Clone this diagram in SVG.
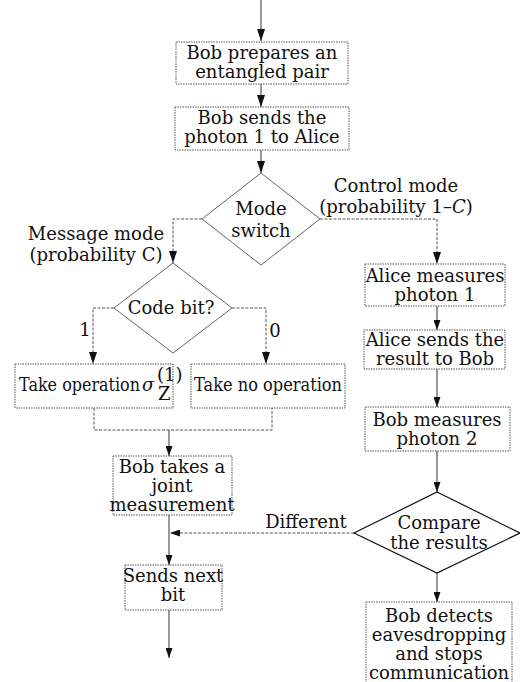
<svg xmlns="http://www.w3.org/2000/svg" width="520" height="682" viewBox="0 0 520 682">
<defs>
<marker id="arr" markerUnits="userSpaceOnUse" markerWidth="12" markerHeight="8" refX="12" refY="4" orient="auto" viewBox="0 0 12 8">
<path d="M0,0 L12,4 L0,8 z" fill="#111"/>
</marker>
<marker id="arrs" markerUnits="userSpaceOnUse" markerWidth="10" markerHeight="7" refX="10" refY="3.5" orient="auto" viewBox="0 0 10 7">
<path d="M0,0 L10,3.5 L0,7 z" fill="#111"/>
</marker>
<style>
.box{fill:#fff;stroke:#555;stroke-width:1;stroke-dasharray:1.5 1}
.dia{fill:#fff;stroke:#666;stroke-width:1}
.dia2{fill:#fff;stroke:#111;stroke-width:1.2}
.c{fill:none;stroke:#333;stroke-width:1}
.d{fill:none;stroke:#555;stroke-width:1;stroke-dasharray:3 1.5}
text{font-family:"DejaVu Serif","Liberation Serif",serif;font-size:18px;fill:#111}
.m{text-anchor:middle}
</style>
</defs>
<rect width="520" height="682" fill="#fff"/>
<g id="connectors">
<line class="c" x1="261" y1="0" x2="261" y2="41" marker-end="url(#arr)"/>
<line class="c" x1="261" y1="84" x2="261" y2="107" marker-end="url(#arr)"/>
<line class="c" x1="261" y1="150" x2="261" y2="173" marker-end="url(#arr)"/>
<polyline class="d" points="202,219 173,219 173,263" marker-end="url(#arr)"/>
<polyline class="d" points="320,219 437,219 437,264" marker-end="url(#arr)"/>
<polyline class="d" points="114,308 93,308 93,364" marker-end="url(#arr)"/>
<polyline class="d" points="232,308 266,308 266,364" marker-end="url(#arr)"/>
<polyline class="d" points="94,408 94,430 272,430 272,408"/>
<line class="c" x1="169" y1="430" x2="169" y2="456" marker-end="url(#arrs)"/>
<line class="d" x1="354" y1="533" x2="170" y2="533" marker-end="url(#arrs)"/>
<line class="c" x1="169" y1="515" x2="169" y2="565" marker-end="url(#arrs)"/>
<line class="c" x1="169" y1="610" x2="169" y2="658" marker-end="url(#arrs)"/>
<line class="c" x1="437" y1="306" x2="437" y2="330" marker-end="url(#arrs)"/>
<line class="c" x1="437" y1="369" x2="437" y2="407" marker-end="url(#arrs)"/>
<line class="c" x1="437" y1="451" x2="437" y2="492" marker-end="url(#arrs)"/>
<line class="c" x1="437" y1="573" x2="437" y2="602" marker-end="url(#arrs)"/>
<text x="85" y="336" class="m">1</text>
<text x="275" y="337" class="m">0</text>
<text x="306" y="528" class="m">Different</text>
<text x="396" y="192" class="m">Control mode</text>
<text x="396" y="213" class="m">(probability 1–<tspan font-style="italic">C</tspan>)</text>
<text x="96" y="240" class="m">Message mode</text>
<text x="96" y="261" class="m">(probability C)</text>
</g>
<g id="prepare">
<rect class="box" x="176" y="42" width="172" height="42"/>
<text x="262" y="59" class="m" font-size="18.5">Bob prepares an</text>
<text x="262" y="78" class="m" font-size="18.5">entangled pair</text>
</g>
<g id="send">
<rect class="box" x="175" y="107" width="174" height="43"/>
<text x="262" y="124" class="m" font-size="18.5">Bob sends the</text>
<text x="262" y="143" class="m" font-size="18.5">photon 1 to Alice</text>
</g>
<g id="mode">
<polygon class="dia" points="261,173 320,219 261,265 202,219"/>
<text x="261" y="215" class="m" font-size="18.5">Mode</text>
<text x="261" y="237" class="m" font-size="18.5">switch</text>
</g>
<g id="codebit">
<polygon class="dia" points="173,263 232,308 173,353 114,308"/>
<text x="171" y="314" class="m">Code bit?</text>
</g>
<g id="op1">
<rect class="box" x="15" y="364" width="158" height="44"/>
<text x="19" y="391" font-size="16" textLength="121" lengthAdjust="spacingAndGlyphs">Take operation</text>
<text x="142" y="391" font-size="15" font-style="italic">σ</text>
<text x="157" y="381" font-size="8">(1)</text>
<text x="158" y="400" font-size="7">Z</text>
</g>
<g id="op0">
<rect class="box" x="191" y="364" width="154" height="44"/>
<text x="268" y="391" class="m" font-size="16" textLength="148" lengthAdjust="spacingAndGlyphs">Take no operation</text>
</g>
<g id="joint">
<rect class="box" x="113" y="456" width="119" height="59"/>
<text x="172" y="473" class="m" font-size="16.5">Bob takes a</text>
<text x="172" y="492" class="m" font-size="16.5">joint</text>
<text x="172" y="511" class="m" font-size="16.5">measurement</text>
</g>
<g id="next">
<rect class="box" x="125" y="565" width="97" height="45"/>
<text x="173" y="582" class="m" font-size="17">Sends next</text>
<text x="173" y="601" class="m" font-size="17">bit</text>
</g>
<g id="alice1">
<rect class="box" x="365" y="264" width="140" height="42"/>
<text x="435" y="282" class="m" font-size="17">Alice measures</text>
<text x="435" y="301" class="m" font-size="17">photon 1</text>
</g>
<g id="alice2">
<rect class="box" x="364" y="330" width="141" height="39"/>
<text x="435" y="346" class="m" font-size="17">Alice sends the</text>
<text x="435" y="365" class="m" font-size="17">result to Bob</text>
</g>
<g id="bob2">
<rect class="box" x="365" y="407" width="145" height="44"/>
<text x="437" y="426" class="m">Bob measures</text>
<text x="437" y="445" class="m">photon 2</text>
</g>
<g id="compare">
<polygon class="dia2" points="437,492 520,533 437,573 354,533"/>
<text x="439" y="529" class="m" font-size="17">Compare</text>
<text x="439" y="549" class="m" font-size="16.5">the results</text>
</g>
<g id="detect">
<rect class="box" x="366" y="602" width="146" height="82"/>
<text x="439" y="622" class="m">Bob detects</text>
<text x="439" y="641" class="m">eavesdropping</text>
<text x="439" y="660" class="m">and stops</text>
<text x="439" y="679" class="m">communication</text>
</g>
</svg>
